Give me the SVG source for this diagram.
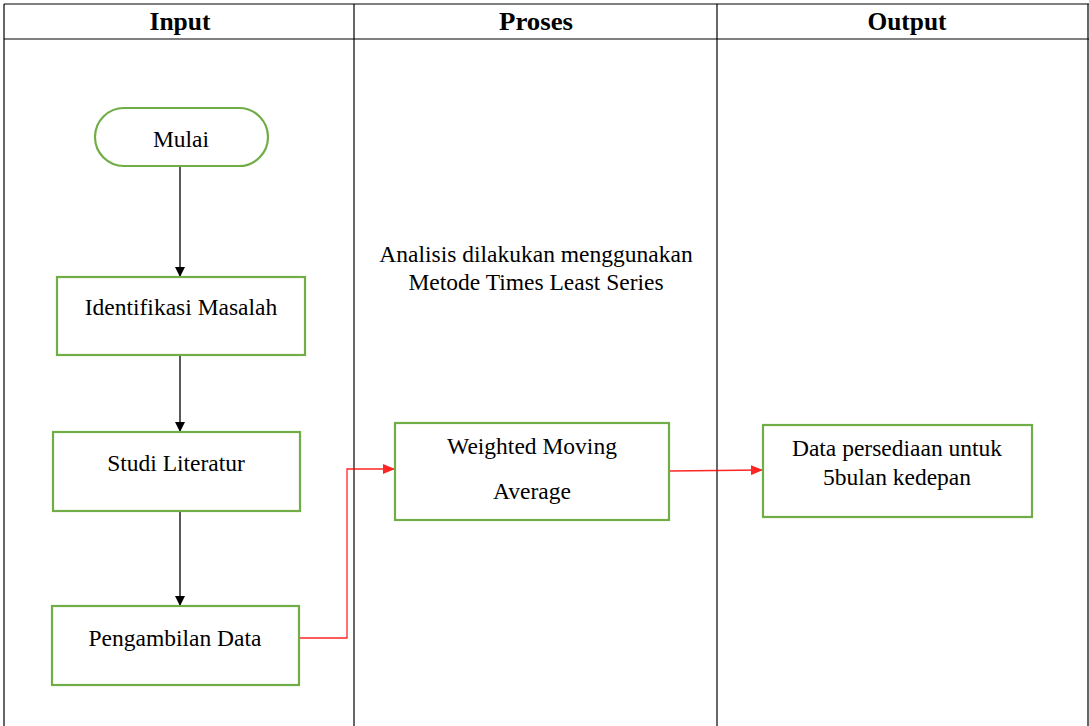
<svg xmlns="http://www.w3.org/2000/svg" width="1089" height="726" viewBox="0 0 1089 726">
<defs>
<style>
.tbl{stroke:#000;stroke-width:1.2;fill:none}
.hd{font-family:"Liberation Serif",serif;font-weight:bold;font-size:25px;text-anchor:middle;fill:#000}
.tx{font-family:"Liberation Serif",serif;font-size:23.5px;text-anchor:middle;fill:#000}
.nd{fill:#fff;stroke:#70AD47;stroke-width:2.2}
.bk{stroke:#000;stroke-width:1.3;fill:none}
.rd{stroke:#FF0000;stroke-width:1.3;fill:none;opacity:0.85}
</style>
<marker id="ab" markerWidth="10" markerHeight="10" refX="9" refY="5" orient="auto" markerUnits="userSpaceOnUse" viewBox="0 0 10 10"><path d="M0,0 L10,5 L0,10 z" fill="#000"/></marker>
<marker id="ar" markerWidth="12" markerHeight="10" refX="11" refY="5" orient="auto" markerUnits="userSpaceOnUse" viewBox="0 0 12 10"><path d="M0,0 L12,5 L0,10 z" fill="#FF0000"/></marker>
</defs>
<rect width="1089" height="726" fill="#fff"/>
<g id="table">
<line class="tbl" x1="4" y1="4" x2="1089" y2="4"/>
<line class="tbl" x1="4" y1="39" x2="1089" y2="39"/>
<line class="tbl" x1="4" y1="4" x2="4" y2="726"/>
<line class="tbl" x1="354" y1="4" x2="354" y2="726"/>
<line class="tbl" x1="717" y1="4" x2="717" y2="726"/>
<line class="tbl" x1="1088" y1="4" x2="1088" y2="726"/>
<text class="hd" x="180" y="30" textLength="61" lengthAdjust="spacingAndGlyphs">Input</text>
<text class="hd" x="536" y="30" textLength="74" lengthAdjust="spacingAndGlyphs">Proses</text>
<text class="hd" x="907" y="30" textLength="79" lengthAdjust="spacingAndGlyphs">Output</text>
</g>
<g id="connectors">
<line class="bk" x1="180" y1="166" x2="180" y2="276" marker-end="url(#ab)"/>
<line class="bk" x1="180" y1="356" x2="180" y2="431" marker-end="url(#ab)"/>
<line class="bk" x1="180" y1="512" x2="180" y2="605" marker-end="url(#ab)"/>
<path class="rd" d="M299,638 H347 V469 H394" marker-end="url(#ar)"/>
<path class="rd" d="M670,471 L762,470" marker-end="url(#ar)"/>
</g>
<g id="mulai">
<rect class="nd" x="95" y="108" width="173" height="58" rx="29" ry="29"/>
<text class="tx" x="181" y="147">Mulai</text>
</g>
<g id="identifikasi">
<rect class="nd" x="57" y="277" width="248" height="78"/>
<text class="tx" x="181" y="315">Identifikasi Masalah</text>
</g>
<g id="studi">
<rect class="nd" x="53" y="432" width="247" height="79"/>
<text class="tx" x="176" y="471">Studi Literatur</text>
</g>
<g id="pengambilan">
<rect class="nd" x="52" y="606" width="247" height="79"/>
<text class="tx" x="175" y="646">Pengambilan Data</text>
</g>
<g id="analisis">
<text class="tx" x="536" y="262">Analisis dilakukan menggunakan</text>
<text class="tx" x="536" y="290">Metode Times Least Series</text>
</g>
<g id="wma">
<rect class="nd" x="395" y="423" width="274" height="97"/>
<text class="tx" x="532" y="454">Weighted Moving</text>
<text class="tx" x="532" y="499">Average</text>
</g>
<g id="output">
<rect class="nd" x="763" y="425" width="269" height="92"/>
<text class="tx" x="897" y="456">Data persediaan untuk</text>
<text class="tx" x="897" y="485">5bulan kedepan</text>
</g>
</svg>
